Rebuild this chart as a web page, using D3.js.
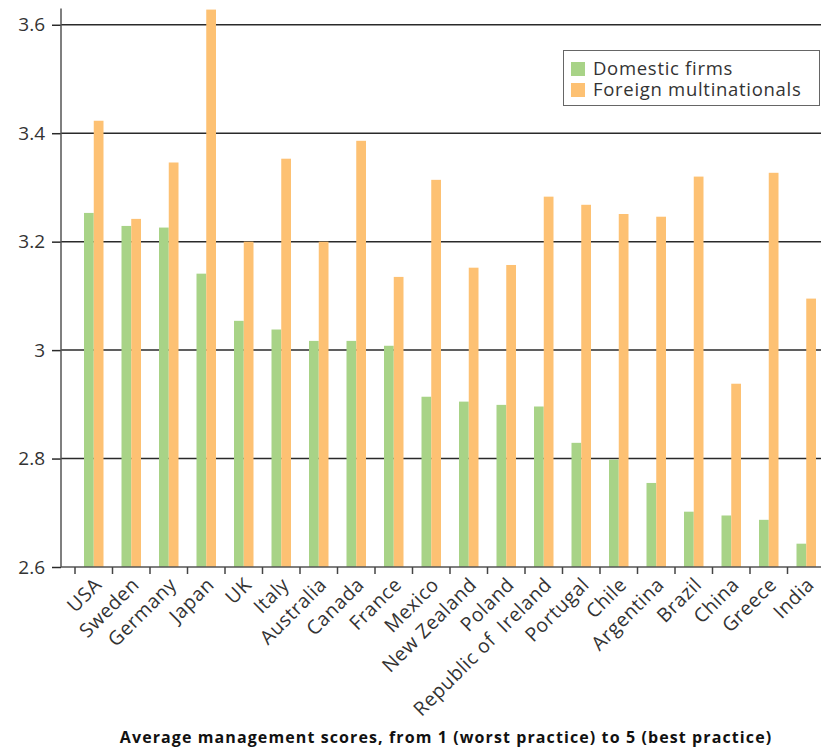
<!DOCTYPE html>
<html>
<head>
<meta charset="utf-8">
<script src="https://cdn.jsdelivr.net/npm/d3@7"></script>
<style>
  body { margin: 0; background: #fff; }
  svg { display: block; font-family: "Open Sans", sans-serif; }
</style>
</head>
<body>
<div id="chart"></div>
<script>
// Data
const countries = ["USA", "Sweden", "Germany", "Japan", "UK", "Italy", "Australia", "Canada",
    "France", "Mexico", "New Zealand", "Poland", "Republic of  Ireland", "Portugal", "Chile",
    "Argentina", "Brazil", "China", "Greece", "India"];
const domestic = [3.253, 3.229, 3.226, 3.141, 3.054, 3.038, 3.017, 3.017, 3.008, 2.914,
    2.905, 2.899, 2.896, 2.829, 2.798, 2.755, 2.702, 2.695, 2.687, 2.643];
const foreign = [3.423, 3.242, 3.346, 3.628, 3.200, 3.353, 3.200, 3.386, 3.135, 3.314,
    3.152, 3.157, 3.283, 3.268, 3.251, 3.246, 3.320, 2.938, 3.327, 3.095];
const seriesNames = ["Domestic firms", "Foreign multinationals"];
const yTicks = [2.6, 2.8, 3.0, 3.2, 3.4, 3.6];
const title = "Average management scores, from 1 (worst practice) to 5 (best practice)";

document.addEventListener("DOMContentLoaded", function() {
    const W = 821, H = 748;
    const axisX = 61, axisY = 567;
    const colors = ["#a8d387", "#fdc173"];

    const svg = d3.select("#chart").append("svg")
        .attr("width", W)
        .attr("height", H);

    // Scales
    const x0 = d3.scaleBand()
        .domain(countries)
        .range([75, 825]);

    const x1 = d3.scaleBand()
        .domain(seriesNames)
        .range([x0.bandwidth() * 0.24, x0.bandwidth() * 0.76]);

    const y = d3.scaleLinear()
        .domain([2.6, 3.63])
        .range([axisY, 8.5]);

    // Gridlines
    svg.append("g")
        .selectAll("line")
        .data(yTicks.slice(1))
        .enter().append("line")
        .attr("x1", axisX)
        .attr("x2", W)
        .attr("y1", d => y(d))
        .attr("y2", d => y(d))
        .attr("stroke", "#2a2a2a")
        .attr("stroke-width", 1.5);

    // Bars
    const rows = countries.map((c, i) => ({ country: c, values: [domestic[i], foreign[i]] }));
    const groups = svg.append("g")
        .selectAll("g")
        .data(rows)
        .enter().append("g")
        .attr("transform", d => `translate(${x0(d.country)},0)`);

    groups.selectAll("rect")
        .data(d => d.values.map((v, k) => ({ key: seriesNames[k], value: v, k: k })))
        .enter().append("rect")
        .attr("x", d => x1(d.key))
        .attr("width", x1.bandwidth())
        .attr("y", d => y(d.value))
        .attr("height", d => y(2.6) - y(d.value))
        .attr("fill", d => colors[d.k]);

    // Y axis
    const yAxis = svg.append("g")
        .attr("transform", `translate(${axisX},0)`)
        .call(d3.axisLeft(y)
            .tickValues(yTicks)
            .tickSize(9)
            .tickPadding(7)
            .tickFormat(d => String(+d.toFixed(1))));
    yAxis.select(".domain").remove();
    yAxis.selectAll(".tick line").attr("stroke", "#2a2a2a").attr("stroke-width", 1.5);
    yAxis.selectAll(".tick text")
        .attr("fill", "#333")
        .style("font-size", "19px")
        .style("font-family", "'Open Sans', sans-serif");

    svg.append("line")
        .attr("x1", axisX).attr("x2", axisX)
        .attr("y1", y(3.63)).attr("y2", axisY)
        .attr("stroke", "#555").attr("stroke-width", 1.5);

    // X axis
    svg.append("line")
        .attr("x1", axisX).attr("x2", W)
        .attr("y1", axisY).attr("y2", axisY)
        .attr("stroke", "#555").attr("stroke-width", 1.5);

    svg.append("g")
        .selectAll("line")
        .data(countries)
        .enter().append("line")
        .attr("x1", d => x0(d))
        .attr("x2", d => x0(d))
        .attr("y1", axisY)
        .attr("y2", axisY + 7)
        .attr("stroke", "#444")
        .attr("stroke-width", 1.5);

    svg.append("g")
        .selectAll("text")
        .data(countries)
        .enter().append("text")
        .attr("transform", d => `translate(${x0(d) + x0.bandwidth() / 2 + 9},${axisY + 19}) rotate(-45)`)
        .attr("text-anchor", "end")
        .attr("fill", "#333")
        .style("font-size", "19.5px")
        .style("letter-spacing", "0.5px")
        .style("white-space", "pre")
        .text(d => d);

    // Legend
    const legend = svg.append("g");
    legend.append("rect")
        .attr("x", 563.5).attr("y", 50.5)
        .attr("width", 256).attr("height", 55)
        .attr("fill", "#fff")
        .attr("stroke", "#666");
    seriesNames.forEach((name, k) => {
        legend.append("rect")
            .attr("x", 571).attr("y", 62 + k * 21)
            .attr("width", 14).attr("height", 14)
            .attr("fill", colors[k]);
        legend.append("text")
            .attr("x", 593).attr("y", 74.5 + k * 21)
            .attr("fill", "#333")
            .style("font-size", "18.5px")
            .style("letter-spacing", "0.7px")
            .text(name);
    });

    // Title
    svg.append("text")
        .attr("x", 446).attr("y", 743)
        .attr("text-anchor", "middle")
        .attr("fill", "#111")
        .style("font-size", "16px")
        .style("font-weight", "bold")
        .style("letter-spacing", "1.1px")
        .text(title);
});
</script>
</body>
</html>
